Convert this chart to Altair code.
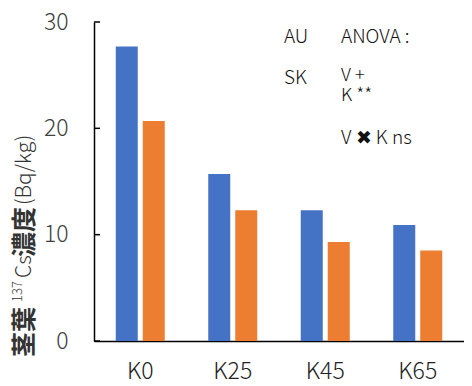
import altair as alt
import pandas as pd

conds = ["K0", "K25", "K45", "K65"]
series = ["AU", "SK"]
au_vals = [27.7, 15.7, 12.3, 10.9]
sk_vals = [20.7, 12.3, 9.3, 8.5]
y_ticks = [0, 10, 20, 30]
colors = ["#4472C4", "#ED7D31"]

FONT = "Noto Sans CJK JP"
LW = 300

rows = []
for c, a, s in zip(conds, au_vals, sk_vals):
    rows.append({"cond": c, "series": "AU", "value": a})
    rows.append({"cond": c, "series": "SK", "value": s})
df = pd.DataFrame(rows)
tick_df = pd.DataFrame({"value": y_ticks})

yscale = alt.Scale(domain=[0, 30], nice=False, zero=True)
yaxis = alt.Axis(values=y_ticks, ticks=False, grid=False, title=None,
                 domainColor="black", domainWidth=1.5,
                 labelFontSize=23, labelColor="#404040", labelFont=FONT,
                 labelFontWeight=LW, labelPadding=26)

bars = alt.Chart(df).mark_bar().encode(
    x=alt.X("cond:N", sort=conds,
            scale=alt.Scale(paddingInner=0, paddingOuter=0),
            axis=alt.Axis(title=None, ticks=False, labelAngle=0, domainColor="black",
                          domainWidth=1.5, labelFontSize=23, labelColor="#222222",
                          labelFont=FONT, labelFontWeight=LW, labelPadding=19)),
    xOffset=alt.XOffset("series:N", sort=series,
                        scale=alt.Scale(paddingInner=0.185, paddingOuter=0.806)),
    y=alt.Y("value:Q", scale=yscale, axis=yaxis),
    color=alt.Color("series:N", sort=series,
                    scale=alt.Scale(domain=series, range=colors), legend=None),
)

ticks = alt.Chart(tick_df).mark_rule(color="black", strokeWidth=1.5).encode(
    y=alt.Y("value:Q", scale=yscale, axis=yaxis),
    x=alt.value(0),
    x2=alt.value(6),
)

def txt(s, x, y, size=19, weight=LW, color="#111111", angle=0, align="left"):
    return alt.Chart(pd.DataFrame({"t": [s]})).mark_text(
        align=align, baseline="middle", fontSize=size, font=FONT,
        fontWeight=weight, color=color, angle=angle,
    ).encode(text="t:N", x=alt.value(x), y=alt.value(y))

annots = [
    txt("AU", 190, 15),
    txt("ANOVA :", 247, 15),
    txt("SK", 190, 56),
    txt("V +", 247, 54, size=18),
    txt("K **", 247, 74, size=18),
    txt("V ✖ K ns", 247, 116),
]

# rotated y-axis title pieces (read bottom to top)
tx = -69
title_parts = [
    txt("茎葉", tx, 335, size=25, weight="bold", color="#333333", angle=270),
    txt("137", tx - 7, 280, size=13, color="#333333", angle=270),
    txt("Cs", tx, 256, size=21, color="#333333", angle=270),
    txt("濃度", tx, 235, size=25, weight="bold", color="#333333", angle=270),
    txt("(Bq/kg)", tx, 183, size=21, color="#333333", angle=270),
]

chart = alt.layer(bars, ticks, *annots, *title_parts).properties(
    width=370, height=319,
    autosize=alt.AutoSizeParams(type="none"),
    padding={"left": 86, "top": 14, "right": 0, "bottom": 44},
).configure_view(stroke=None)

chart.save("out.html", embed_options={"renderer": "svg", "actions": False})
